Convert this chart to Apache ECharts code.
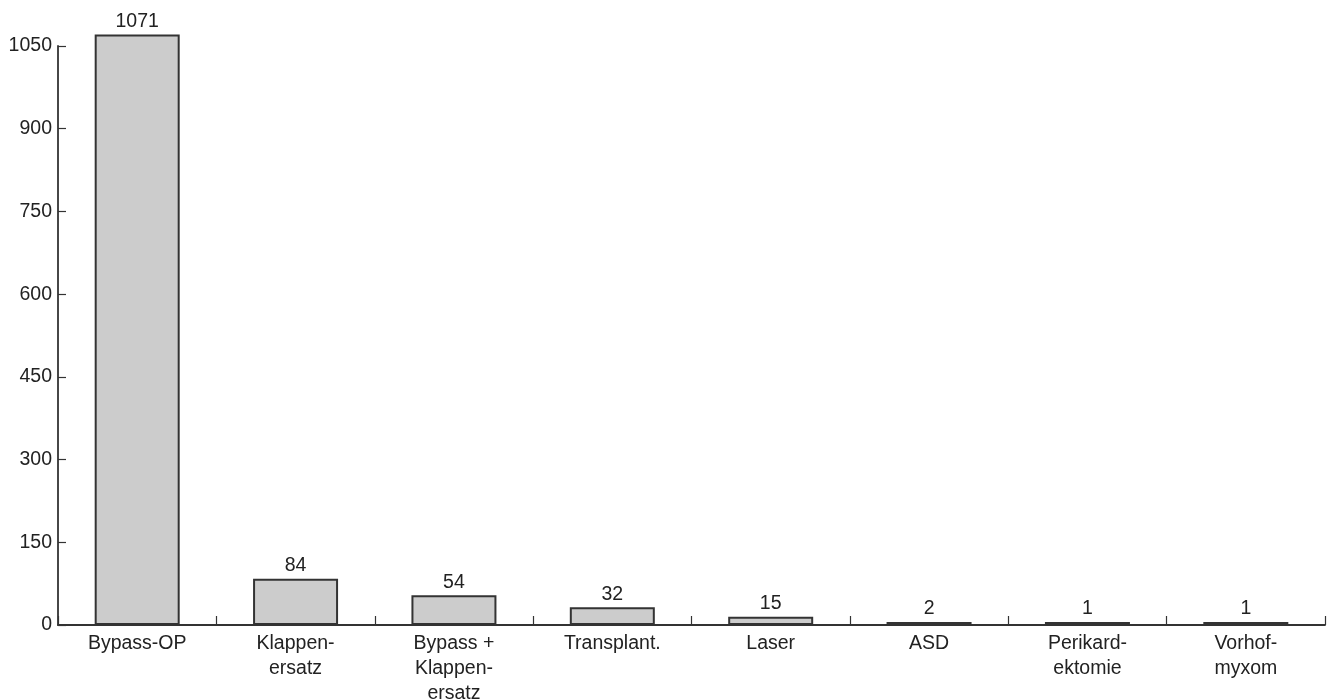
<!DOCTYPE html>
<html>
<head>
<meta charset="utf-8">
<script src="https://cdn.jsdelivr.net/npm/echarts@6/dist/echarts.min.js"></script>
<style>
html,body{margin:0;padding:0;background:#fff;}
#chart{width:1332px;height:700px;}
</style>
</head>
<body>
<div id="chart"></div>
<script>
const categories = ["Bypass-OP", "Klappen-\nersatz", "Bypass +\nKlappen-\nersatz", "Transplant.", "Laser", "ASD", "Perikard-\nektomie", "Vorhof-\nmyxom"];
const values = [1071, 84, 54, 32, 15, 2, 1, 1];
const yTicks = [0, 150, 300, 450, 600, 750, 900, 1050];

const chart = echarts.init(document.getElementById('chart'));
const font = '"Liberation Sans", Arial, sans-serif';
const fs = 19.5;
chart.setOption({
  animation: false,
  backgroundColor: '#fff',
  grid: { left: 58, right: 7, top: 46, bottom: 75, containLabel: false, outerBoundsMode: 'none' },
  xAxis: {
    type: 'category',
    data: categories,
    axisLine: { lineStyle: { color: '#333', width: 1.8 } },
    axisTick: { show: true, inside: true, length: 9, alignWithLabel: false, lineStyle: { color: '#333', width: 1.2 } },
    axisLabel: { color: '#222', fontSize: fs, fontFamily: font, lineHeight: 25, margin: 6, interval: 0 }
  },
  yAxis: {
    type: 'value',
    min: 0,
    max: 1050,
    interval: 150,
    splitLine: { show: false },
    axisLine: { show: true, lineStyle: { color: '#333', width: 1.8 } },
    axisTick: { show: true, inside: true, length: 8, lineStyle: { color: '#333', width: 1.2 } },
    axisLabel: { color: '#222', fontSize: fs, fontFamily: font, margin: 6,
      formatter: v => yTicks.includes(v) ? String(v) : '' }
  },
  series: [{
    type: 'bar',
    data: values,
    barWidth: 85,
    barMinHeight: 3,
    clip: false,
    itemStyle: { color: '#cccccc', borderColor: '#333', borderWidth: 2 },
    label: { show: true, position: 'top', color: '#222', fontSize: fs, fontFamily: font, distance: 3 }
  }]
});
</script>
</body>
</html>
